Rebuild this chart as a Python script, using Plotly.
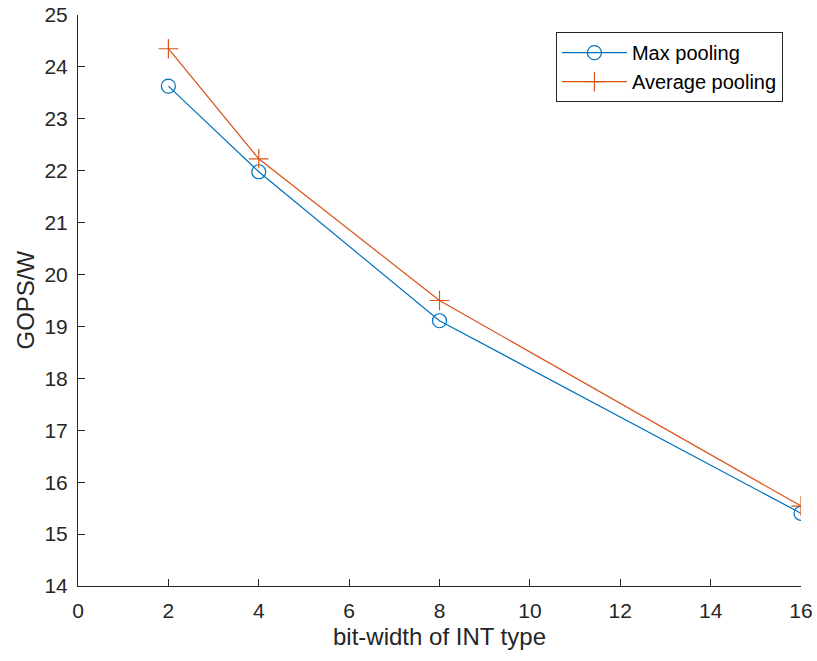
import plotly.graph_objects as go

bit_width = [2, 4, 8, 16]
max_pooling = [23.63, 21.98, 19.11, 15.40]
avg_pooling = [24.35, 22.23, 19.50, 15.54]

x_ticks = list(range(0, 17, 2))
y_ticks = list(range(14, 26))

blue = "#0072BD"
orange = "#D95319"
axis_col = "#262626"
font = "Liberation Sans, Arial, Helvetica, sans-serif"

fig = go.Figure()
fig.add_trace(go.Scatter(
    x=bit_width, y=max_pooling, mode="lines+markers", name="Max pooling",
    line=dict(color=blue, width=1.2),
    marker=dict(symbol="circle-open", size=14, color=blue, line=dict(width=1.2, color=blue)),
))
fig.add_trace(go.Scatter(
    x=bit_width, y=avg_pooling, mode="lines+markers", name="Average pooling",
    line=dict(color=orange, width=1.2),
    marker=dict(symbol="cross-thin-open", size=14, color=orange, line=dict(width=1.2, color=orange)),
))

fig.update_layout(
    width=817, height=661,
    margin=dict(l=78, r=16, t=15, b=75, autoexpand=False),
    paper_bgcolor="white", plot_bgcolor="white",
    font=dict(family=font, size=21, color=axis_col),
    showlegend=True,
    legend=dict(
        x=0.975, y=0.97, xanchor="right", yanchor="top",
        bordercolor=axis_col, borderwidth=1, bgcolor="white",
        font=dict(family=font, size=20, color="black"),
        tracegroupgap=0, itemwidth=65,
    ),
    xaxis=dict(
        range=[0, 16], tickvals=x_ticks, ticktext=[str(v) for v in x_ticks],
        showgrid=False, zeroline=False, showline=True, linecolor=axis_col, linewidth=1,
        ticks="inside", ticklen=7, tickcolor=axis_col, mirror=False, automargin=False,
        tickfont=dict(size=21, color=axis_col), ticklabelstandoff=6,
        ticklabeloverflow="allow",
    ),
    yaxis=dict(
        range=[14, 25], tickvals=y_ticks, ticktext=[str(v) for v in y_ticks],
        showgrid=False, zeroline=False, showline=True, linecolor=axis_col, linewidth=1,
        ticks="inside", ticklen=7, tickcolor=axis_col, mirror=False, automargin=False,
        tickfont=dict(size=21, color=axis_col), ticklabelstandoff=5,
        ticklabeloverflow="allow",
    ),
    annotations=[
        dict(text="bit-width of INT type", xref="paper", yref="paper",
             x=0.5, y=0, yshift=-50, xanchor="center", yanchor="middle",
             showarrow=False, font=dict(size=24, color=axis_col)),
        dict(text="GOPS/W", xref="paper", yref="paper", x=0, y=0.5, xshift=-53,
             xanchor="center", yanchor="middle", textangle=-90,
             showarrow=False, font=dict(size=24, color=axis_col)),
    ],
)

# remove the browser's default 8px body margin so the figure sits at the page origin
fig.write_html("out.html", config={"displayModeBar": False},
               post_script="document.body.style.margin='0px';")
